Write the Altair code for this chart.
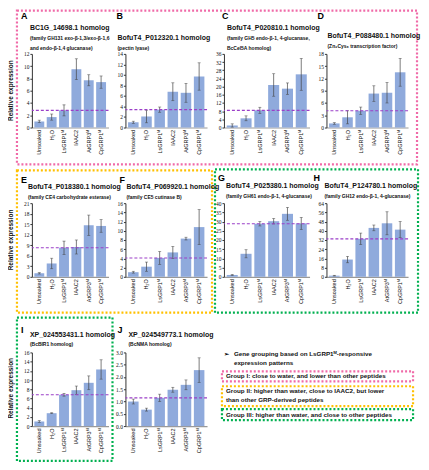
import altair as alt
import pandas as pd

cats = ["Unsoaked", "H₂O", "LsGRP1ᴹ", "IAAC2", "AtGRP3ᴹ", "CpGRP1ᴹ"]

ids = ["A", "B", "C", "D", "E", "F", "G", "H", "I", "J"]
titles = {
    "A": "BC1G_14698.1 homolog", "B": "BofuT4_P012320.1 homolog",
    "C": "BofuT4_P020810.1 homolog", "D": "BofuT4_P088480.1 homolog",
    "E": "BofuT4_P018380.1 homolog", "F": "BofuT4_P069920.1 homolog",
    "G": "BofuT4_P025380.1 homolog", "H": "BofuT4_P124780.1 homolog",
    "I": "XP_024553431.1 homolog", "J": "XP_024549773.1 homolog",
}
subtitles = {
    "A": ["(family GH131 exo-β-1,3/exo-β-1,6", "and endo-β-1,4 glucanase)"],
    "B": ["(pectin lyase)"],
    "C": ["(family GH5 endo-β-1, 4-glucanase,", "BcCel5A homolog)"],
    "D": ["(Zn₂Cys₆ transcription factor)"],
    "E": ["(family CE4 carbohydrate esterase)"],
    "F": ["(family CE5 cutinase B)"],
    "G": ["(family GH61 endo-β-1, 4-glucanase)"],
    "H": ["(family GH12 endo-β-1, 4-glucanase)"],
    "I": ["(BcBIR1 homolog)"],
    "J": ["(BcNMA homolog)"],
}
means = {
    "A": [1.0, 1.7, 2.8, 9.5, 7.7, 7.4],
    "B": [1.0, 2.1, 3.4, 6.8, 6.6, 9.7],
    "C": [1.0, 4.5, 8.4, 20.8, 19.0, 26.0],
    "D": [1.0, 2.5, 4.1, 8.3, 8.5, 13.5],
    "E": [1.0, 3.8, 8.3, 8.5, 14.7, 14.5],
    "F": [1.0, 2.2, 4.1, 5.3, 8.3, 10.8],
    "G": [1.0, 12.5, 28.8, 30.2, 34.2, 29.0],
    "H": [1.0, 15.0, 33.0, 42.5, 46.5, 41.0],
    "I": [1.0, 2.8, 6.8, 7.8, 9.4, 12.3],
    "J": [1.0, 0.67, 1.15, 1.48, 1.68, 2.28],
}
errs = {
    "A": [0.2, 0.5, 0.9, 1.7, 0.9, 1.0],
    "B": [0.2, 1.2, 0.5, 1.7, 1.8, 2.6],
    "C": [0.8, 1.2, 1.5, 5.5, 2.8, 7.8],
    "D": [0.2, 1.6, 0.9, 1.9, 2.5, 3.4],
    "E": [0.2, 1.5, 1.9, 2.0, 2.9, 1.8],
    "F": [0.2, 1.0, 1.4, 1.3, 0.3, 3.8],
    "G": [0.3, 2.2, 1.2, 1.5, 3.5, 3.3],
    "H": [0.3, 2.8, 5.0, 2.5, 10.0, 7.0],
    "I": [0.2, 0.1, 0.3, 0.9, 1.5, 2.1],
    "J": [0.1, 0.06, 0.15, 0.1, 0.2, 0.5],
}
ymax = {"A": 12, "B": 14, "C": 36, "D": 18, "E": 21, "F": 16, "G": 40, "H": 64, "I": 16, "J": 3.0}
ystep = {"A": 2, "B": 2, "C": 4, "D": 3, "E": 3, "F": 2, "G": 5, "H": 8, "I": 2, "J": 0.5}

# layout (page pixels)
col_w = [77, 82, 86, 82]
PH = 74
OX, OY = 32, 53  # page position of panel A plot origin

BAR = "#8FAADC"
DASH = "#9B3FC8"
PINK = "#F06AA8"
GOLD = "#FFC000"
GREEN = "#00B050"


def panel(pid, w):
    df = pd.DataFrame({"cat": cats, "mean": means[pid], "err": errs[pid]})
    df["lo"] = df["mean"] - df["err"]
    df["hi"] = df["mean"] + df["err"]
    n = int(round(ymax[pid] / ystep[pid]))
    ticks = [round(i * ystep[pid], 2) for i in range(n + 1)]
    fmt = ".1f" if pid == "J" else "d"
    xs = alt.X("cat:N", sort=cats,
               scale=alt.Scale(paddingInner=0.2, paddingOuter=0.2),
               axis=alt.Axis(title=None, labelAngle=270, labelFont="Liberation Sans",
                             labelFontSize=5.5, ticks=False, domainColor="#999",
                             domainWidth=1.2, labelPadding=2, labelColor="#111",
                             labelAlign="right", labelBaseline="middle",
                             labelOverlap=False))
    ys = alt.Y("mean:Q", scale=alt.Scale(domain=[0, ymax[pid]], nice=False, zero=True),
               axis=alt.Axis(title=None, values=ticks, tickCount=len(ticks) + 2,
                             grid=False, format=fmt,
                             labelFont="Liberation Serif", labelFontSize=5.5,
                             tickSize=2, domainColor="#333", tickColor="#333",
                             labelPadding=1, labelColor="#111",
                             labelOverlap=False, labelFlush=False))
    bars = alt.Chart(df).mark_bar(color=BAR).encode(x=xs, y=ys)
    xc = alt.X("cat:N", sort=cats)
    eb = alt.Chart(df).mark_rule(color="#444", strokeWidth=0.7).encode(
        x=xc, y="lo:Q", y2="hi:Q")
    cap_hi = alt.Chart(df).mark_tick(color="#444", size=3, thickness=0.7).encode(x=xc, y="hi:Q")
    cap_lo = alt.Chart(df).mark_tick(color="#444", size=3, thickness=0.7).encode(x=xc, y="lo:Q")
    dash = alt.Chart(pd.DataFrame({"v": [means[pid][2]]})).mark_rule(
        color=DASH, strokeDash=[3, 2], strokeWidth=1.1).encode(y="v:Q")
    return [bars, eb, cap_hi, cap_lo, dash]


# ---- decorations in page coordinates ----
boxes = pd.DataFrame({
    "x":  [17, 17, 216, 17, 223, 223, 223],
    "x2": [419, 213, 420, 113, 415, 415, 415],
    "y":  [9.5, 170, 169, 318, 372, 387, 410],
    "y2": [164, 313, 313, 462, 382, 407, 421],
    "c":  [PINK, GOLD, GREEN, GREEN, PINK, GOLD, GREEN],
})
boxes["x"] -= OX; boxes["x2"] -= OX; boxes["y"] -= OY; boxes["y2"] -= OY

letters = pd.DataFrame({
    "t": ids,
    "x": [21, 117, 223, 319, 21, 120, 219, 315, 21, 118],
    "y": [15, 15, 15, 15, 180, 180, 178, 178, 330, 330],
})
title_pos = {"A": (30, 27), "B": (118, 37), "C": (228, 27), "D": (329, 35),
             "E": (28, 187), "F": (127, 187), "G": (227, 186), "H": (326, 186),
             "I": (30, 335), "J": (129, 335)}
trows, srows = [], []
for p in ids:
    tx, ty = title_pos[p]
    trows.append({"t": titles[p], "x": tx, "y": ty})
    for k, s in enumerate(subtitles[p]):
        srows.append({"t": s, "x": tx, "y": ty + 10 + 10.5 * k})
tdf = pd.DataFrame(trows)
sdf = pd.DataFrame(srows)
legend_lines = pd.DataFrame({
    "t": ["➢", "Gene grouping based on LsGRP1ᴹ-responsive", "expression patterns",
          "Group I: close to water, and lower than other peptides",
          "Group II: higher than water, close to IAAC2, but lower",
          "than other GRP-derived peptides",
          "Group III: higher than water, and close to other peptides"],
    "x": [225, 235, 235, 227, 227, 227, 227],
    "y": [355, 355, 364, 377, 392, 401, 415.5],
})
ytitles = pd.DataFrame({"t": ["Relative expression"] * 3, "x": [11, 11, 11], "y": [90, 240, 389]})

for d in (letters, tdf, sdf, legend_lines, ytitles):
    d["x"] = d["x"] - OX
    d["y"] = d["y"] - OY

anchor = pd.DataFrame({"x": [8 - OX], "x2": [421 - OX], "y": [8 - OY], "y2": [462 - OY]})

px = lambda f: alt.X(f, scale=None, axis=None)
py = lambda f: alt.Y(f, scale=None, axis=None)

deco = [
    alt.Chart(anchor).mark_rect(fill="white", fillOpacity=0, strokeOpacity=0).encode(
        x=px("x:Q"), x2="x2:Q", y=py("y:Q"), y2="y2:Q"),
    alt.Chart(boxes).mark_rect(filled=False, strokeWidth=2.2, strokeDash=[2, 2]).encode(
        x=px("x:Q"), x2="x2:Q", y=py("y:Q"), y2="y2:Q",
        stroke=alt.Stroke("c:N", scale=None)),
    alt.Chart(letters).mark_text(align="left", baseline="middle", font="Liberation Sans",
                                 fontWeight="bold", fontSize=9, color="#000").encode(
        x=px("x:Q"), y=py("y:Q"), text="t:N"),
    alt.Chart(tdf).mark_text(align="left", baseline="middle", font="Liberation Sans",
                             fontWeight="bold", fontSize=7, color="#111").encode(
        x=px("x:Q"), y=py("y:Q"), text="t:N"),
    alt.Chart(sdf).mark_text(align="left", baseline="middle", font="Liberation Sans",
                             fontWeight="bold", fontSize=5, color="#111").encode(
        x=px("x:Q"), y=py("y:Q"), text="t:N"),
    alt.Chart(legend_lines).mark_text(align="left", baseline="middle", font="Liberation Sans",
                                      fontWeight="bold", fontSize=6.3, color="#111").encode(
        x=px("x:Q"), y=py("y:Q"), text="t:N"),
    alt.Chart(ytitles).mark_text(align="center", baseline="middle", font="Liberation Sans",
                                 fontWeight="bold", fontSize=6.5, angle=270, color="#111").encode(
        x=px("x:Q"), y=py("y:Q"), text="t:N"),
]

col_of = {"A": 0, "B": 1, "C": 2, "D": 3, "E": 0, "F": 1, "G": 2, "H": 3, "I": 0, "J": 1}
charts = []
for p in ids:
    layers = panel(p, col_w[col_of[p]])
    if p == "A":
        layers = deco + layers
    charts.append(alt.layer(*layers).properties(width=col_w[col_of[p]], height=PH))

chart = alt.concat(*charts, columns=4, spacing={"row": 76, "column": 17},
                   bounds="flush").properties(padding=0).configure_view(stroke=None)

chart.save("out.html", embed_options={"renderer": "svg", "actions": False})
